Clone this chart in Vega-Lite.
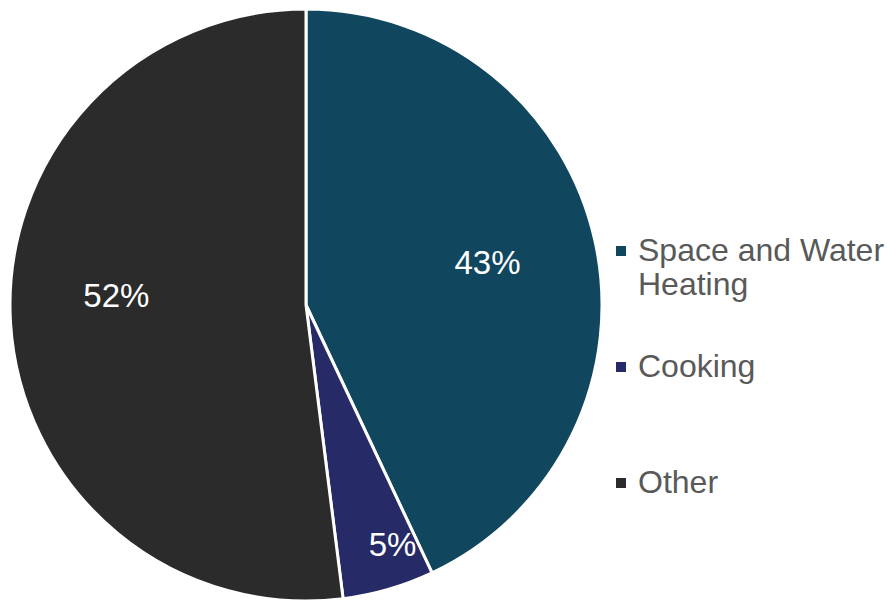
{
  "$schema": "https://vega.github.io/schema/vega-lite/v6.json",
  "autosize": {"type": "none"},
  "padding": {"left": 0, "top": 0, "bottom": 0, "right": 275},
  "width": 612,
  "height": 610,
  "background": "white",
  "data": {"values": [
    {"category": "Space and Water Heating", "share": 0.43, "idx": 1},
    {"category": "Cooking", "share": 0.05, "idx": 2},
    {"category": "Other", "share": 0.52, "idx": 3}
  ]},
  "encoding": {
    "theta": {"field": "share", "type": "quantitative", "stack": true},
    "order": {"field": "idx", "type": "quantitative"},
    "color": {
      "field": "category", "type": "nominal",
      "scale": {"domain": ["Space and Water Heating", "Cooking", "Other"], "range": ["#10475F", "#262A66", "#2B2B2B"]},
      "legend": {
        "title": null, "orient": "none", "legendX": 605, "legendY": 235,
        "symbolType": "square", "symbolSize": 100, "symbolStrokeWidth": 0,
        "labelFont": "Liberation Sans", "labelFontSize": 32, "labelColor": "#595959",
        "labelLimit": 400, "labelOffset": 1, "rowPadding": 50, "padding": 0,
        "labelExpr": "datum.label == 'Space and Water Heating' ? ['Space and Water', 'Heating'] : [datum.label, ' ']"
      }
    }
  },
  "layer": [
    {"mark": {"type": "arc", "outerRadius": 296, "stroke": "white", "strokeWidth": 3}},
    {
      "mark": {"type": "text", "radius": 186, "font": "Liberation Sans", "fontSize": 33},
      "encoding": {
        "text": {"condition": {"test": "datum.share != 0.43", "value": ""}, "field": "share", "type": "quantitative", "format": ".0%"},
        "color": {"value": "white"}
      }
    },
    {
      "mark": {"type": "text", "radius": 253, "dx": 16, "dy": -2, "font": "Liberation Sans", "fontSize": 33},
      "encoding": {
        "text": {"condition": {"test": "datum.share != 0.05", "value": ""}, "field": "share", "type": "quantitative", "format": ".0%"},
        "color": {"value": "white"}
      }
    },
    {
      "mark": {"type": "text", "radius": 190, "dy": -20, "font": "Liberation Sans", "fontSize": 33},
      "encoding": {
        "text": {"condition": {"test": "datum.share != 0.52", "value": ""}, "field": "share", "type": "quantitative", "format": ".0%"},
        "color": {"value": "white"}
      }
    }
  ]
}
